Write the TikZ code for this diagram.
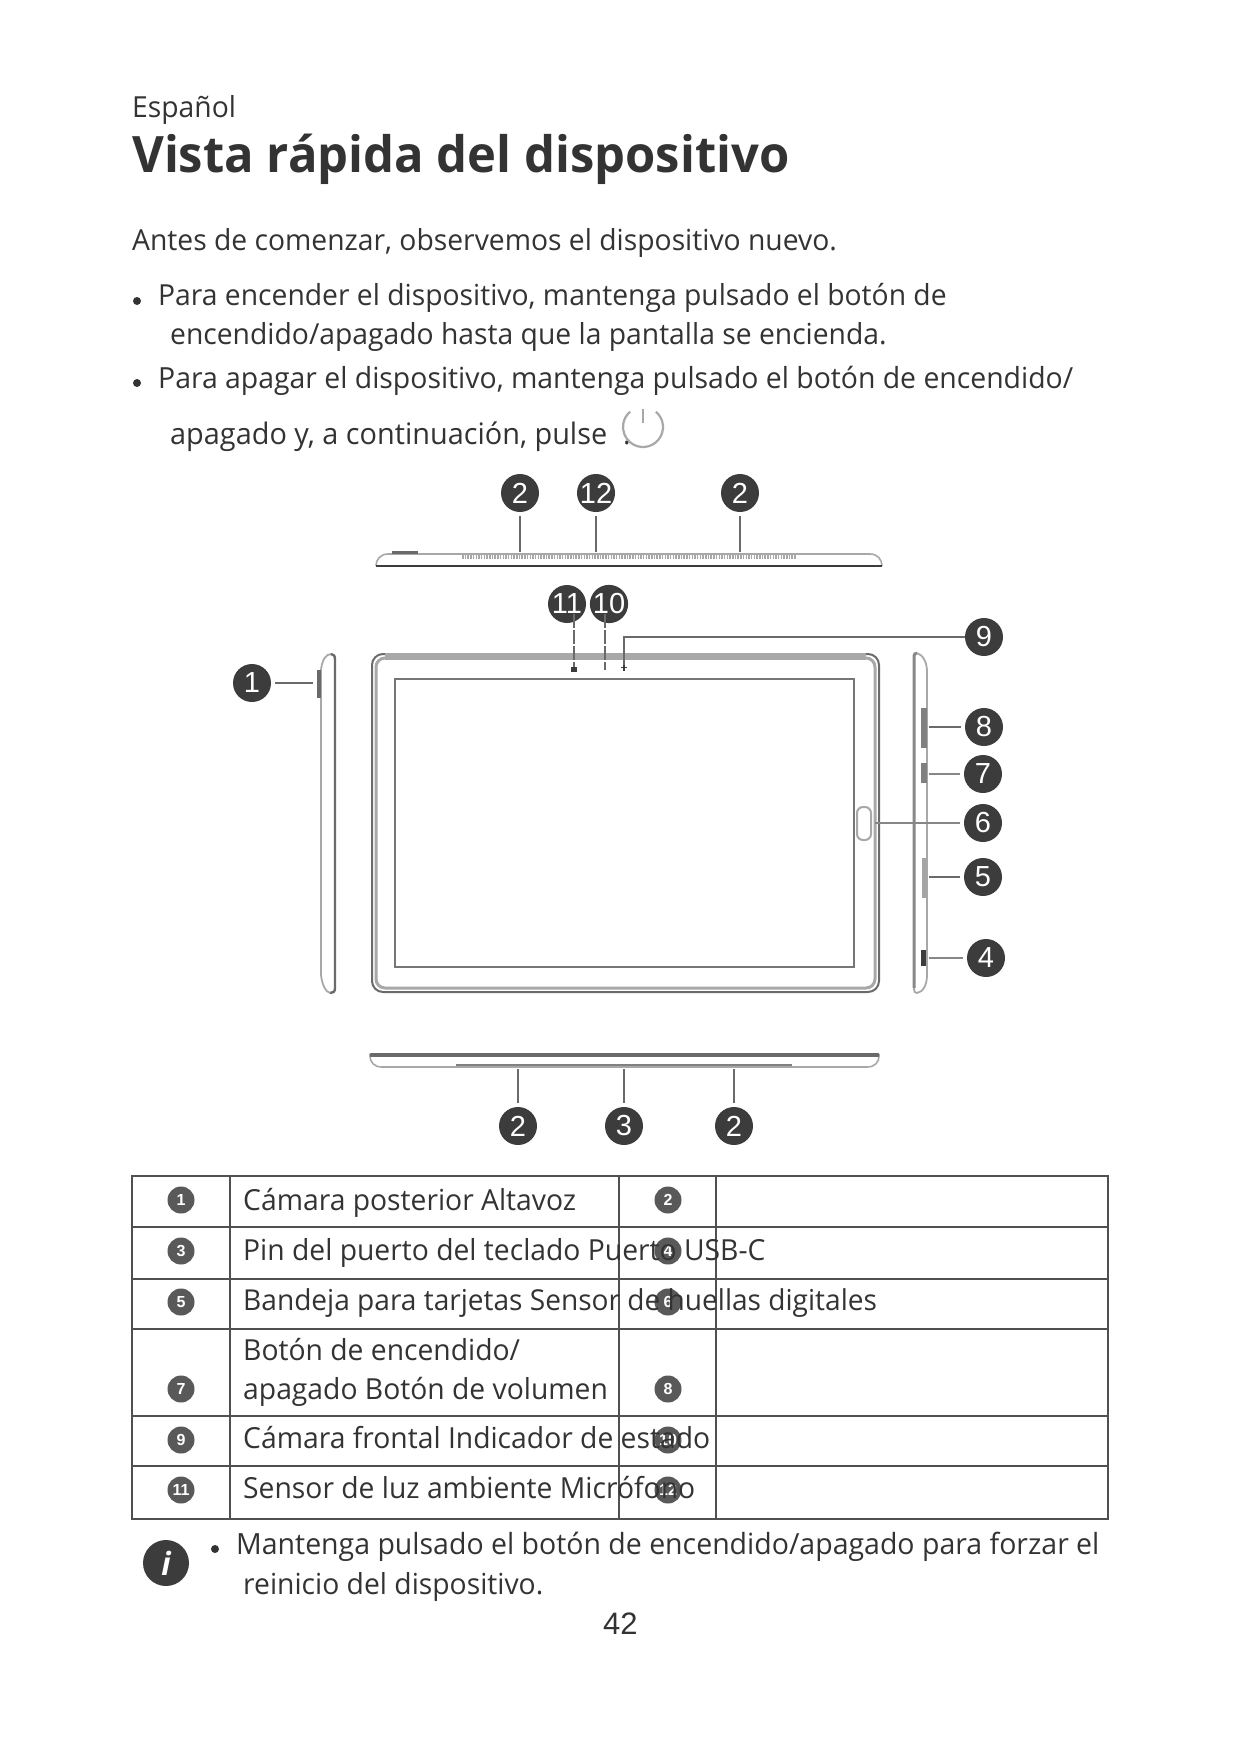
\documentclass[tikz,border=0pt]{standalone}
\usepackage{fontspec}
\setmainfont[FakeStretch=0.975]{Open Sans}
\newfontfamily\numfont{Liberation Sans}
\usetikzlibrary{calc}
\definecolor{inkgray}{HTML}{333333}
\definecolor{bubblegray}{HTML}{3C3C3C}
\definecolor{edgegray}{HTML}{6A6A6A}
\definecolor{softgray}{HTML}{A8A8A8}

\begin{document}
\begin{tikzpicture}[x=1pt, y=-1pt,
    txt/.style={anchor=base west, inner sep=0pt, text=inkgray, font=\fontsize{29}{29}\selectfont},
    bubble/.style={circle, fill=bubblegray, text=white, minimum size=38pt, inner sep=0pt, font=\numfont\fontsize{29}{29}\selectfont},
    tabbubble/.style={circle, fill=bubblegray!85, text=white, minimum size=27pt, inner sep=0pt, font=\numfont\bfseries\fontsize{16}{16}\selectfont},
    leader/.style={draw=edgegray, line width=2pt},
    softleader/.style={draw=softgray!80!black, line width=2.4pt},
    tablerule/.style={draw=bubblegray!90, line width=2.2pt}]
    \useasboundingbox (0,0) rectangle (1241,1754);
    \fill[white] (0,0) rectangle (1241,1754);

    \node[txt] (lang) at (132,117) {Español};
    \node[txt, font=\bfseries\fontsize{50.2}{50}\selectfont] (title) at (132,172) {Vista rápida del dispositivo};
    \node[txt] (intro) at (132,250) {Antes de comenzar, observemos el dispositivo nuevo.};
    \fill[inkgray] (137,301) circle (4);
    \node[txt] (on1) at (158,305) {Para encender el dispositivo, mantenga pulsado el botón de};
    \node[txt] (on2) at (170,344) {encendido/apagado hasta que la pantalla se encienda.};
    \fill[inkgray] (137,383) circle (4);
    \node[txt, font=\fontsize{29.1}{29}\selectfont] (off1) at (158,388) {Para apagar el dispositivo, mantenga pulsado el botón de encendido/};
    \node[txt, font=\fontsize{29.6}{29}\selectfont] (off2) at (170,444) {apagado y, a continuación, pulse};
    \node[txt] (dot) at (623,444) {.};
    \draw[softgray, line width=2.2pt] (643,427) ++(-50:20) arc[start angle=-50, end angle=230, radius=20];
    \draw[softgray, line width=2.2pt] (643,409) -- (643,423);

    % top edge
    \draw[softgray, line width=1.6pt] (376,566) .. controls (376,560) and (380,554) .. (388,554) -- (870,554) .. controls (878,554) and (882,560) .. (882,566);
    \draw[bubblegray, line width=2.4pt] (376,566) -- (882,566);
    \fill[edgegray] (392,551) rectangle (418,554);
    \draw[softgray, line width=4pt, dash pattern=on 1.5pt off 1.2pt] (462,557) -- (796,557);

    % front
    \draw[edgegray, line width=2pt, rounded corners=11] (372,654) rectangle (879,992);
    \draw[softgray, line width=3pt, rounded corners=9] (376,658) rectangle (875,988);
    \fill[softgray] (385,653) rectangle (866,660);
    \draw[softgray!70!black, line width=2pt] (395,679) rectangle (854,967);
    \draw[softgray, line width=2pt, rounded corners=6] (857,807) rectangle (871,840);
    \fill[bubblegray] (571,667) rectangle (577,672);
    \draw[bubblegray, line width=1.4pt] (621,667.5) -- (627,667.5) (624,664.5) -- (624,670.5);

    % left side
    \draw[softgray, line width=1.8pt] (321,975) -- (321,670) .. controls (322,660) and (326,654) .. (331,654);
    \draw[edgegray, line width=2.4pt] (331,654) .. controls (334,654) and (335,656) .. (335,660) -- (335,988) .. controls (335,992) and (333,993) .. (330,993);
    \draw[softgray, line width=1.8pt] (321,975) .. controls (322,985) and (326,992) .. (330,993);
    \fill[edgegray] (317,670) rectangle (321,698);

    % right side
    \draw[edgegray!80, line width=3pt] (914,988) -- (914,658) .. controls (914,654) and (915,653) .. (917,653);
    \draw[softgray, line width=1.8pt] (917,653) .. controls (923,655) and (927,662) .. (927,672) -- (927,975) .. controls (927,985) and (923,992) .. (917,993) .. controls (915,993) and (914,992) .. (914,988);
    \fill[edgegray!85] (921,708) rectangle (927,748);
    \fill[edgegray!85] (921,763) rectangle (927,783);
    \fill[edgegray!60] (922,858) rectangle (927,898);
    \fill[bubblegray] (921,950) rectangle (926,966);

    % bottom edge
    \draw[softgray, line width=1.6pt] (370,1056) .. controls (370,1062) and (374,1067) .. (382,1067) -- (867,1067) .. controls (875,1067) and (879,1062) .. (879,1056);
    \draw[edgegray, line width=3.4pt, line cap=round] (371,1055) -- (878,1055);
    \draw[edgegray!85, line width=2pt] (456,1065) -- (792,1065);

    % callouts
    \foreach \name/\lab/\px/\py in {ta/2/520/493, tb/12/596/493, tc/2/740/493,
        la/11/567/604, lb/10/609/604, n9/9/984/637, n1/1/252/683,
        n8/8/984/727, n7/7/983/774, n6/6/983/823, n5/5/983/877, n4/4/986/958,
        ba/2/518/1126, bb/3/624/1126, bc/2/734/1126} {
        \node[bubble] (\name) at (\px,\py) {\lab};
    }
    \coordinate (tae) at (520,552);
    \coordinate (tbe) at (596,552);
    \coordinate (tce) at (740,552);
    \coordinate (lae) at (574,667);
    \coordinate (lbe) at (605,670);
    \coordinate (n9e) at (624,665);
    \coordinate (n1e) at (313,683);
    \coordinate (n8e) at (929,727);
    \coordinate (n7e) at (929,774);
    \coordinate (n6e) at (875,823);
    \coordinate (n5e) at (929,877);
    \coordinate (n4e) at (929,958);
    \coordinate (bae) at (518,1069);
    \coordinate (bbe) at (624,1069);
    \coordinate (bce) at (734,1069);
    \foreach \name in {ta, tb, tc, n1, n8, n5, ba, bb, bc} {
        \draw[leader, shorten <=4pt] (\name) -- (\name e);
    }
    \foreach \name in {n7, n6, n4} {
        \draw[softleader, shorten <=4pt] (\name) -- (\name e);
    }
    \draw[leader, dash pattern=on 14pt off 2pt, shorten <=10pt] (la) ++(7,0) -- (lae);
    \draw[leader, dash pattern=on 14pt off 2pt, shorten <=10pt] (lb) ++(-4,0) -- (lbe);
    \draw[leader] (n9) -- (n9 -| n9e) -- (n9e);

    % table
    \foreach \name/\lab/\px/\py in {ca/1/181/1200, cb/3/181/1251, cc/5/181/1302, cd/7/181/1389, ce/9/181/1440, cf/11/181/1490,
        da/2/668/1200, db/4/668/1251, dc/6/668/1302, dd/8/668/1389, de/10/668/1440, df/12/668/1490} {
        \node[tabbubble] (\name) at (\px,\py) {\lab};
    }
    \draw[tablerule] (132,1176) rectangle (1108,1519);
    \foreach \ry in {1227, 1279, 1329, 1416, 1466} {
        \draw[tablerule] (132,\ry) -- (1108,\ry);
    }
    \foreach \rx in {230, 619, 716} {
        \draw[tablerule] (\rx,1176) -- (\rx,1519);
    }
    \node[txt] (ra) at (243,1210) {Cámara posterior Altavoz};
    \node[txt] (rb) at (243,1260) {Pin del puerto del teclado Puerto USB-C};
    \node[txt, font=\fontsize{28.8}{29}\selectfont] (rc) at (243,1310) {Bandeja para tarjetas Sensor de huellas digitales};
    \node[txt] (rd) at (243,1360) {Botón de encendido/};
    \node[txt] (re) at (243,1399) {apagado Botón de volumen};
    \node[txt] (rf) at (243,1448) {Cámara frontal Indicador de estado};
    \node[txt] (rg) at (243,1498) {Sensor de luz ambiente Micrófono};

    % note
    \node[circle, fill=bubblegray, text=white, minimum size=46pt, inner sep=0pt, font=\bfseries\itshape\fontsize{32}{32}\selectfont] (info) at (166,1563) {i};
    \fill[inkgray] (215,1549) circle (4);
    \node[txt, font=\fontsize{29.2}{29}\selectfont] (nta) at (236,1554) {Mantenga pulsado el botón de encendido/apagado para forzar el};
    \node[txt] (ntb) at (243,1594) {reinicio del dispositivo.};
    \node[txt, font=\numfont\fontsize{31}{31}\selectfont] (page) at (603,1634) {42};
\end{tikzpicture}
\end{document}
